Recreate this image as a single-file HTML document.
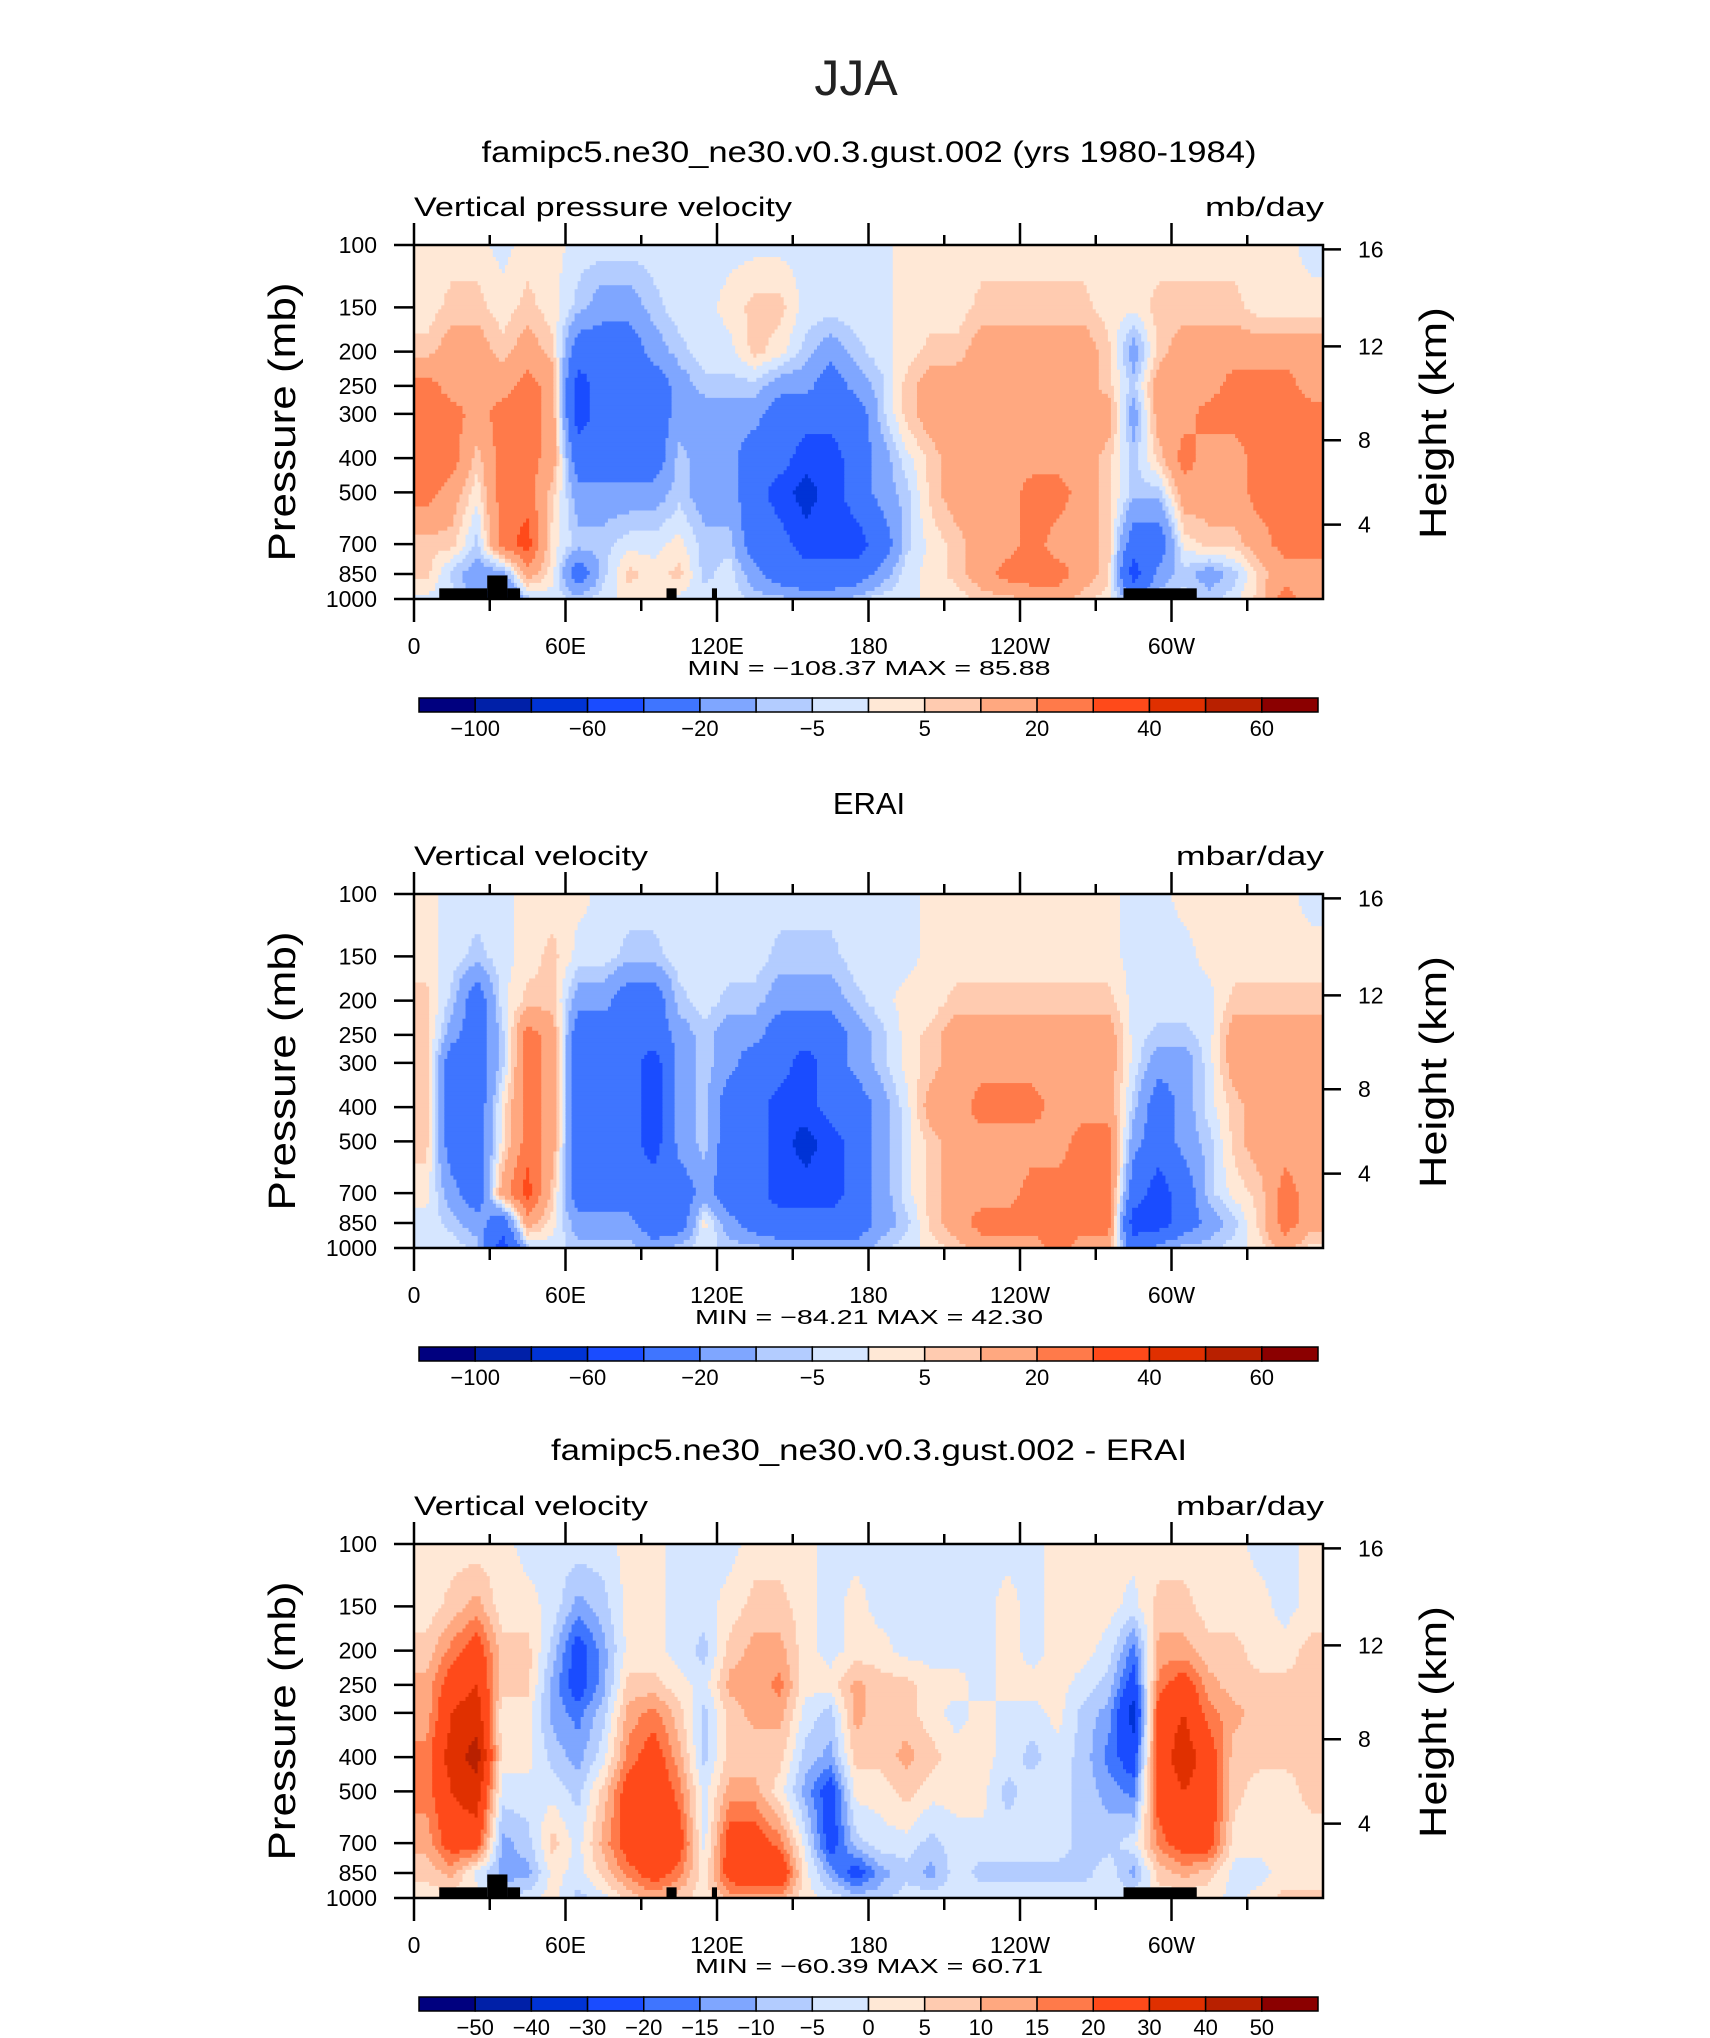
<!DOCTYPE html>
<html><head><meta charset="utf-8"><title>JJA vertical velocity</title>
<style>
html,body{margin:0;padding:0;background:#fff;}
svg{display:block;font-family:"Liberation Sans",sans-serif;}
</style></head>
<body>
<svg id="fig" width="1710" height="2038" viewBox="0 0 1710 2038" xmlns="http://www.w3.org/2000/svg">
<rect x="0" y="0" width="1710" height="2038" fill="#fff"/>
<text x="856" y="95" font-size="50" text-anchor="middle" fill="#222">JJA</text>
<text x="869" y="162" font-size="30" text-anchor="middle" textLength="775" lengthAdjust="spacingAndGlyphs">famipc5.ne30_ne30.v0.3.gust.002 (yrs 1980-1984)</text>
<text x="414" y="216" font-size="27" textLength="378" lengthAdjust="spacingAndGlyphs">Vertical pressure velocity</text>
<text x="1324" y="216" font-size="27" text-anchor="end" textLength="119" lengthAdjust="spacingAndGlyphs">mb/day</text>
<text x="869" y="675" font-size="20" text-anchor="middle" textLength="363" lengthAdjust="spacingAndGlyphs">MIN = −108.37   MAX =  85.88</text>

<text x="869" y="814" font-size="31" text-anchor="middle">ERAI</text>
<text x="414" y="865" font-size="27" textLength="234" lengthAdjust="spacingAndGlyphs">Vertical velocity</text>
<text x="1324" y="865" font-size="27" text-anchor="end" textLength="148" lengthAdjust="spacingAndGlyphs">mbar/day</text>
<text x="869" y="1324" font-size="20" text-anchor="middle" textLength="348" lengthAdjust="spacingAndGlyphs">MIN = −84.21   MAX =  42.30</text>

<text x="869" y="1460" font-size="30" text-anchor="middle" textLength="636" lengthAdjust="spacingAndGlyphs">famipc5.ne30_ne30.v0.3.gust.002 - ERAI</text>
<text x="414" y="1515" font-size="27" textLength="234" lengthAdjust="spacingAndGlyphs">Vertical velocity</text>
<text x="1324" y="1515" font-size="27" text-anchor="end" textLength="148" lengthAdjust="spacingAndGlyphs">mbar/day</text>
<text x="869" y="1973" font-size="20" text-anchor="middle" textLength="348" lengthAdjust="spacingAndGlyphs">MIN = −60.39   MAX =  60.71</text>
<g id="layers"></g>
</svg>
<script>
// ---- data ----
const levels = [100,150,200,250,300,400,500,700,850,1000];
const lonCenters = [5,15,25,35,45,55,65,75,85,95,105,115,125,135,145,155,165,175,185,195,205,215,225,235,245,255,265,275,285,295,305,315,325,335,345,355];
const pressureTicks = [100,150,200,250,300,400,500,700,850,1000];
const heightTicks = [16,12,8,4];
const lonTicks = [0,60,120,180,240,300];
const lonTickLabels = ["0","60E","120E","180","120W","60W"];
const contourLevels1 = [-100,-80,-60,-40,-20,-10,-5,0,5,10,20,30,40,50,60];
const contourLevels3 = [-50,-40,-30,-20,-15,-10,-5,0,5,10,15,20,30,40,50];
const cbarLabels1 = ["−100","","−60","","−20","","−5","","5","","20","","40","","60"];
const cbarLabels3 = ["−50","−40","−30","−20","−15","−10","−5","0","5","10","15","20","30","40","50"];
// topography blocks: [lonStart, lonEnd, pressureTop]
const topo = [[10,29,933],[29,37,858],[37,42,933],[100,104,933],[118,120,933],[281,310,933]];
// model field (columns = lon, values top(100mb) -> bottom(1000mb))
const model = [
[2,2,7,25,25,25,25,7,7,-2],[2,7,15,15,25,25,15,7,-7,-2],[2,7,15,15,15,7,2,-7,-15,-15],
[-2,2,7,15,25,25,25,25,-15,-30],[2,7,15,25,25,25,25,35,15,-7],[2,2,7,15,15,15,7,2,2,-2],
[-2,-7,-30,-50,-50,-30,-15,-7,-30,-7],[-2,-15,-30,-30,-30,-30,-15,-7,-7,-2],[-2,-15,-30,-30,-30,-30,-15,-2,7,2],
[-2,-7,-15,-30,-30,-30,-15,-2,2,2],[-2,-2,-7,-15,-15,-7,-7,2,7,-2],[-2,-2,-2,-7,-15,-15,-15,-7,-7,-2],
[-2,2,-2,-7,-15,-15,-15,-7,-2,-2],[-2,7,7,-7,-15,-30,-30,-30,-15,-7],[-2,7,2,-15,-30,-30,-50,-30,-30,-7],
[-2,-2,-7,-15,-30,-50,-70,-50,-30,-15],[-2,-2,-15,-30,-30,-50,-50,-50,-30,-15],[-2,-2,-7,-15,-30,-30,-30,-50,-30,-7],
[-2,-2,-2,-7,-7,-15,-15,-30,-15,-2],[2,2,2,7,7,-2,-7,-7,-2,-2],[2,2,7,15,15,7,7,2,2,2],
[2,2,7,15,15,15,15,7,7,2],[2,7,15,15,15,15,15,15,15,7],[2,7,15,15,15,15,15,15,25,7],
[2,7,15,15,15,15,25,25,25,15],[2,7,15,15,15,15,25,15,25,15],[2,7,15,15,15,15,15,15,15,7],
[2,2,7,7,15,7,7,7,7,2],[2,2,-15,-7,-15,-7,-7,-30,-50,-15],[2,7,7,15,15,7,-7,-30,-15,-7],
[2,7,15,15,15,25,15,2,-7,-2],[2,7,15,15,25,15,15,7,-15,-7],[2,7,15,25,25,15,15,7,-7,-2],
[2,2,15,25,25,25,25,15,7,7],[2,2,15,25,25,25,25,25,15,25],[-2,2,15,15,25,25,25,25,15,15]];
const erai = [
[2,2,7,7,7,7,7,2,-2,-2],[-2,-2,-7,-15,-30,-30,-30,-15,-7,-2],[-2,-7,-30,-30,-30,-30,-30,-30,-15,-7],
[-2,-2,-2,-7,-7,2,2,15,-30,-50],[2,2,7,25,25,25,25,35,15,-7],[2,7,7,15,15,15,15,7,2,-2],
[2,-2,-15,-30,-30,-30,-30,-30,-15,-7],[-2,-2,-15,-30,-30,-30,-30,-30,-15,-7],[-2,-7,-30,-30,-30,-30,-30,-30,-15,-7],
[-2,-7,-30,-30,-50,-50,-50,-30,-30,-15],[-2,-2,-7,-15,-15,-15,-15,-30,-30,-7],[-2,-2,-2,-7,-7,-7,-7,-15,2,-2],
[-2,-2,-7,-15,-15,-30,-30,-30,-15,-7],[-2,-2,-7,-15,-30,-30,-30,-30,-30,-7],[-2,-7,-15,-30,-30,-50,-50,-50,-30,-15],
[-2,-7,-15,-30,-50,-50,-70,-50,-30,-15],[-2,-7,-15,-30,-30,-30,-50,-50,-30,-15],[-2,-2,-7,-15,-15,-30,-30,-30,-30,-15],
[-2,-2,-2,-7,-7,-15,-15,-15,-15,-7],[-2,-2,2,2,2,-2,-2,-2,-7,-2],[2,2,2,7,7,15,7,7,7,2],
[2,2,7,15,15,15,15,15,15,7],[2,2,7,15,15,25,15,15,25,15],[2,2,7,15,15,25,15,15,25,15],
[2,2,7,15,15,25,15,25,25,15],[2,2,7,15,15,15,15,25,25,25],[2,2,7,15,15,15,25,25,25,15],
[2,2,7,15,15,15,25,25,25,15],[-2,-2,-2,-2,-2,-7,-15,-30,-50,-30],[-2,-2,-2,-7,-15,-30,-30,-50,-50,-15],
[2,-2,-2,-7,-15,-15,-15,-30,-30,-7],[2,2,-2,-2,-2,-2,-7,-7,-15,-7],[2,2,7,15,15,7,7,2,-7,-2],
[2,2,7,15,15,15,15,7,7,2],[2,2,7,15,15,15,15,25,25,15],[-2,2,7,15,15,15,15,15,15,2]];
const diff = [
[2,2,7,12,12,17,17,12,7,2],[2,7,17,25,30,35,30,25,12,2],[2,12,25,30,35,45,35,25,-2,2],
[2,2,7,7,2,2,-2,-12,-12,-7],[-2,2,7,7,2,2,-2,-7,-12,-2],[-2,-2,-7,-12,-12,-7,-2,7,2,2],
[-2,-12,-25,-25,-17,-12,-7,-2,-2,-7],[-2,-7,-12,-12,-7,-2,7,12,7,-2],[2,2,2,7,12,17,25,25,17,7],
[2,2,2,7,17,25,30,30,25,12],[-2,-2,-2,2,7,12,17,25,17,7],[-2,-2,-7,-2,-7,-7,-2,-2,2,2],
[-2,2,7,12,7,7,12,25,25,12],[2,7,12,12,12,7,12,25,30,12],[2,7,12,17,12,7,2,17,30,12],
[2,2,2,2,-2,-7,-12,-2,2,2],[-2,-2,-2,2,-7,-12,-25,-25,-12,-2],[-2,2,2,12,12,7,2,-7,-25,-7],
[-2,-2,2,7,7,7,2,-2,-12,-7],[-2,-2,-2,7,7,12,7,-2,-7,-2],[-2,-2,-2,2,2,7,2,-7,-12,-2],
[-2,-2,-2,2,-2,2,2,-2,-2,-2],[-2,-2,-2,-2,2,2,2,-2,-7,-2],[-2,2,2,2,-2,-2,-7,-2,-7,-2],
[-2,-2,-2,2,-2,-7,-2,-2,-7,-2],[2,2,2,2,2,-2,-2,-2,-7,-2],[2,2,2,-2,-7,-7,-7,-7,-7,-2],
[2,2,-2,-7,-12,-17,-12,-7,-2,-2],[2,-2,-17,-25,-35,-25,-17,-2,-12,-2],[2,7,12,17,25,25,25,17,7,2],
[2,7,12,25,30,35,30,25,12,2],[2,2,7,12,17,25,25,25,7,2],[2,2,7,7,12,7,7,2,-2,-2],
[-2,2,2,7,7,7,2,2,-2,2],[-2,-2,2,7,7,7,2,2,2,7],[2,2,7,7,7,7,7,2,2,7]];

// ---- style ----
const colors = ["#00007f","#0020a8","#0033d6","#1a4cff","#3f75ff","#7fa6ff","#b3ccff","#d6e6ff","#ffe8d6","#ffcbb0","#ffa880","#ff7a4a","#ff4a1a","#e03000","#b82000","#8b0000"];
const NS = "http://www.w3.org/2000/svg";
const X0 = 414, X1 = 1323, PH = 354;
const layers = document.getElementById("layers");
function mk(tag, attrs, parent){const e=document.createElementNS(NS,tag);for(const k in attrs)e.setAttribute(k,attrs[k]);(parent||layers).appendChild(e);return e;}
function xScale(lon){return X0+lon/360*(X1-X0);}
function yScale(p,top){return top+(Math.log10(p)-2)*PH;}
function stdPressure(km){const z=km*1000;if(z<=11000)return 1013.25*Math.pow(1-2.25577e-5*z,5.25588);return 226.32*Math.exp(-(z-11000)/6341.6);}
function colorFor(v,lv){let i=0;while(i<lv.length&&v>=lv[i])i++;return colors[i];}
function sample(field,lon,lp){
  let fi=(lon-5)/10; fi=Math.max(0,Math.min(lonCenters.length-1,fi));
  const i0=Math.floor(fi), i1=Math.min(i0+1,lonCenters.length-1), tx=fi-i0;
  const lls=levels.map(Math.log10);
  let j0=0; while(j0<lls.length-2&&lp>lls[j0+1])j0++;
  let ty=(lp-lls[j0])/(lls[j0+1]-lls[j0]); ty=Math.max(0,Math.min(1,ty));
  const a=field[i0][j0]*(1-tx)+field[i1][j0]*tx, b=field[i0][j0+1]*(1-tx)+field[i1][j0+1]*tx;
  return a*(1-ty)+b*ty;
}
function drawPanel(n,top,field,lv,cbarLabels,hasTopo){
  const g=mk("g",{});
  
  
  const field_g=mk("g",{},g);
  
  
  const NX=300, NY=88;
  for(let r=0;r<NY;r++){
    const lp=2+(r+0.5)/NY;
    const y0=top+r/NY*PH, h=PH/NY;
    let start=0, cur=null;
    for(let c=0;c<=NX;c++){
      const col = c<NX ? colorFor(sample(field,(c+0.5)/NX*360,lp),lv) : null;
      if(col!==cur){
        if(cur!==null){
          const rc=mk("rect",{x:(xScale(start/NX*360)).toFixed(2),y:y0.toFixed(2),width:(xScale(c/NX*360)-xScale(start/NX*360)+0.6).toFixed(2),height:(h+0.6).toFixed(2),fill:cur},field_g);
          
          
        }
        start=c; cur=col;
      }
    }
  }
  if(hasTopo){
    topo.forEach(t=>{
      const r=mk("rect",{x:xScale(t[0]),y:yScale(t[2],top),width:xScale(t[1])-xScale(t[0]),height:yScale(1000,top)-yScale(t[2],top),fill:"#000"},g);
      
      
    });
  }
  const fr=mk("rect",{x:X0,y:top,width:X1-X0,height:PH,fill:"none",stroke:"#000","stroke-width":2.5},g);
  
  
  for(let lon=0;lon<=330;lon+=30){
    const major=lon%60===0, x=xScale(lon);
    const tt=mk("line",{x1:x,x2:x,y1:top,y2:top-(major?22:10),stroke:"#000","stroke-width":2.5},g);
    
    
    const bt=mk("line",{x1:x,x2:x,y1:top+PH,y2:top+PH+(major?23:12),stroke:"#000","stroke-width":2.5},g);
    
    
  }
  lonTicks.forEach((lon,i)=>{
    const t=mk("text",{x:xScale(lon),y:top+PH+55,"font-size":23,"text-anchor":"middle"},g);
    t.textContent=lonTickLabels[i];
    
    
  });
  pressureTicks.forEach(p=>{
    const y=yScale(p,top);
    const l=mk("line",{x1:X0-20,x2:X0,y1:y,y2:y,stroke:"#000","stroke-width":2.5},g);
    
    
    const t=mk("text",{x:377,y:y+8,"font-size":23,"text-anchor":"end"},g);
    t.textContent=String(p);
    
    
  });
  heightTicks.forEach(km=>{
    const y=yScale(stdPressure(km),top);
    const l=mk("line",{x1:X1,x2:X1+18,y1:y,y2:y,stroke:"#000","stroke-width":2.5},g);
    
    
    const t=mk("text",{x:1358,y:y+8,"font-size":23},g);
    t.textContent=String(km);
    
    
  });
  const yt=mk("text",{x:0,y:0,"font-size":38,"text-anchor":"middle",textLength:279,lengthAdjust:"spacingAndGlyphs",transform:`translate(295,${top+177}) rotate(-90)`},g);
  yt.textContent="Pressure (mb)";
  
  
  const ht=mk("text",{x:0,y:0,"font-size":38,"text-anchor":"middle",textLength:232,lengthAdjust:"spacingAndGlyphs",transform:`translate(1446,${top+178}) rotate(-90)`},g);
  ht.textContent="Height (km)";
  
  
  const cy=top+453, cx0=419, cx1=1318, bw=(cx1-cx0)/colors.length;
  colors.forEach((c,i)=>{
    const r=mk("rect",{x:cx0+i*bw,y:cy,width:bw,height:14,fill:c,stroke:"#000","stroke-width":1.5},g);
    
    
  });
  cbarLabels.forEach((s,i)=>{
    if(!s)return;
    const t=mk("text",{x:cx0+(i+1)*bw,y:cy+38,"font-size":22,"text-anchor":"middle"},g);
    t.textContent=s;
    
    
  });
}
drawPanel(1,245,model,contourLevels1,cbarLabels1,true);
drawPanel(2,894,erai,contourLevels1,cbarLabels1,false);
drawPanel(3,1544,diff,contourLevels3,cbarLabels3,true);
</script>
</body></html>
